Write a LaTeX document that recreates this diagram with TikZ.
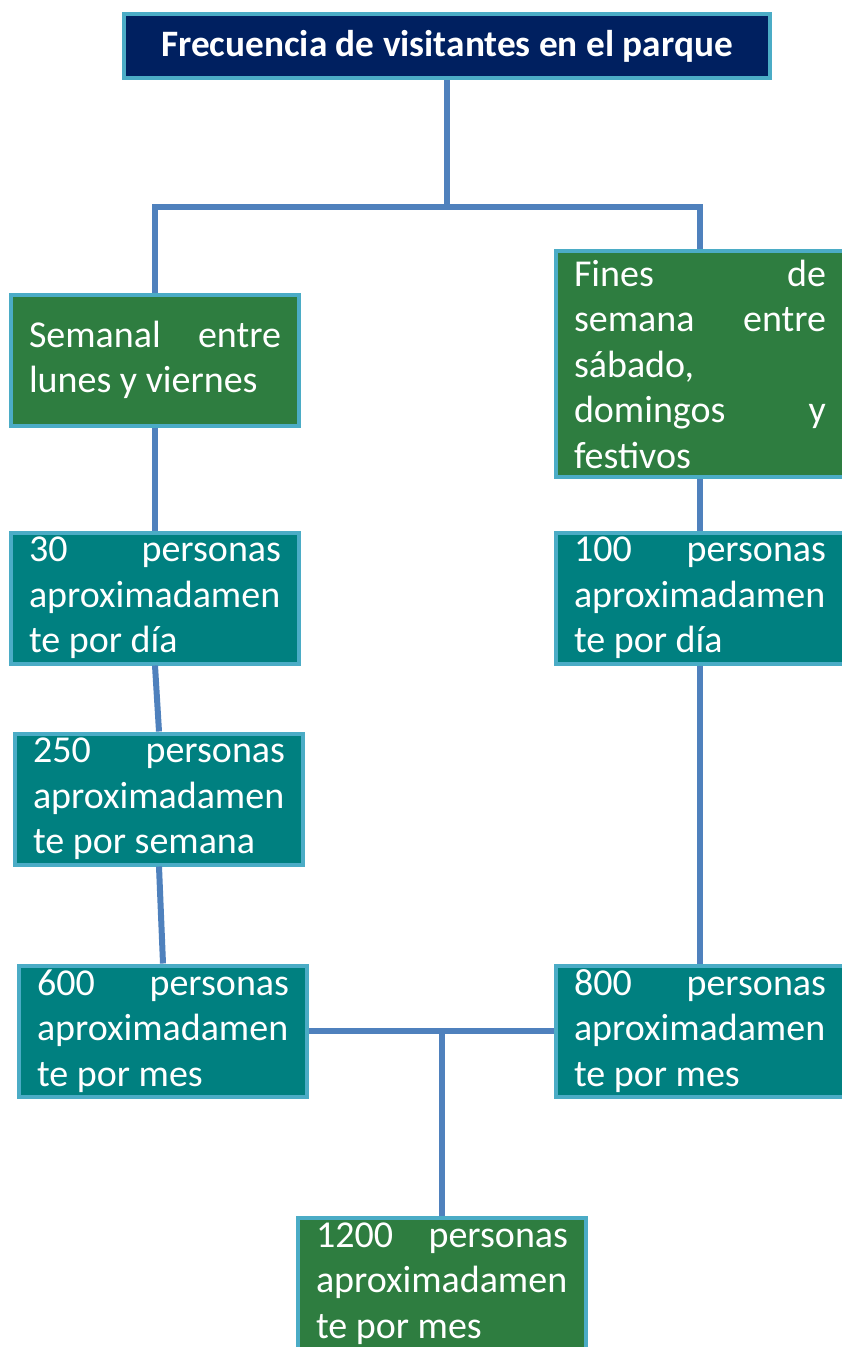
\documentclass[tikz,border=0pt]{standalone}
\usepackage{fontspec}
\setmainfont{Carlito}
\hyphenpenalty=10000
\definecolor{navy}{RGB}{0,32,96}
\definecolor{frame}{RGB}{75,172,198}
\definecolor{leaf}{RGB}{46,125,64}
\definecolor{sea}{RGB}{0,128,128}
\definecolor{linkblue}{RGB}{79,129,189}
\tikzset{
  box/.style={draw=frame, line width=4pt, minimum width=288pt, minimum height=131pt,
    text width=252pt, align=flush left, text=white, inner sep=0pt,
    font=\fontsize{38}{45.5}\selectfont},
  greenbox/.style={box, fill=leaf},
  tealbox/.style={box, fill=sea},
  heading/.style={draw=frame, fill=navy, line width=4pt, minimum width=646pt, minimum height=64pt,
    text=white, font=\fontsize{37.3}{45}\selectfont\bfseries},
  link/.style={draw=linkblue, line width=6pt}
}
\begin{document}
\begin{tikzpicture}[x=1pt,y=-1pt]
  \clip (0,0) rectangle (842,1347);
  \fill[white] (0,0) rectangle (842,1347);
  % title and the two kinds of days
  \node[heading] (title) at (447,46) {Frecuencia de visitantes en el parque};
  \node[greenbox] (sem) at (155,360) {Semanal \hfill entre\\lunes y viernes};
  \node[greenbox, minimum height=226pt] (fin) at (700,364)
    {Fines \hfill de\\semana \hfill entre\\sábado,\\domingos \hfill y\\festivos};
  % weekday chain
  \node[tealbox] (d30) at (155,598) {30 \hfill personas\\aproximadamen\\te por día};
  \node[tealbox] (w250) at (159,799) {250 \hfill personas\\aproximadamen\\te por semana};
  \node[tealbox] (m600) at (163,1031) {600 \hfill personas\\aproximadamen\\te por mes};
  % weekend chain
  \node[tealbox] (d100) at (700,598) {100 \hfill personas\\aproximadamen\\te por día};
  \node[tealbox] (m800) at (700,1031) {800 \hfill personas\\aproximadamen\\te por mes};
  % total
  \node[greenbox] (t1200) at (442,1283.5) {1200 \hfill personas\\aproximadamen\\te por mes};
  % connectors
  \coordinate (top) at (447,207);
  \coordinate (bot) at (t1200.north |- m600.east);
  \draw[link] (title.south) -- (top);
  \draw[link] (sem.north) |- (top) -| (fin.north);
  \draw[link] (sem.south) -- (d30.north);
  \draw[link] (d30.south) -- (w250.north);
  \draw[link] (w250.south) -- (m600.north);
  \draw[link] (fin.south) -- (d100.north);
  \draw[link] (d100.south) -- (m800.north);
  \draw[link] (m600.east) -- (m800.west);
  \draw[link] (bot) -- (t1200.north);
\end{tikzpicture}
\end{document}
